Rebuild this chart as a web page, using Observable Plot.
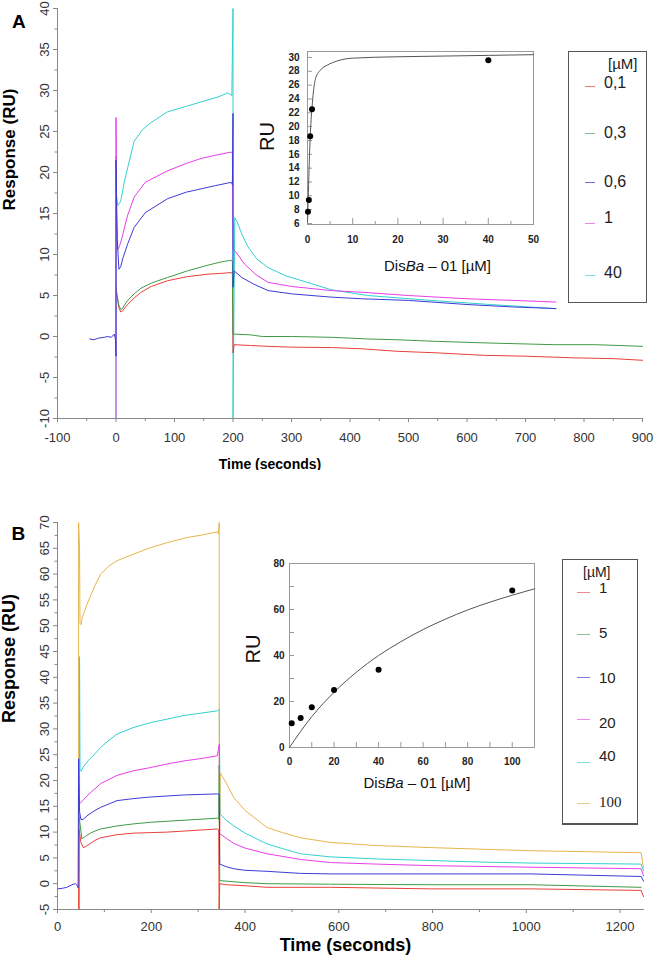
<!DOCTYPE html>
<html><head><meta charset="utf-8">
<script src="https://cdn.jsdelivr.net/npm/d3@7"></script>
<script src="https://cdn.jsdelivr.net/npm/@observablehq/plot@0.6"></script>
<style>
body{margin:0;background:#fff;}
#fig{position:relative;width:654px;height:961px;font-family:"Liberation Sans",Arial,sans-serif;overflow:hidden;}
#fig > *{position:absolute;}
.lg{border:1px solid #555;box-sizing:border-box;}
.lt{position:absolute;line-height:1;transform:translateY(-50%);color:#222;white-space:pre;}
.ll{position:absolute;height:1px;}
</style></head><body><div id="fig"></div><script>
// ---------- Panel A data (time s, response RU) ----------
const aConc = ["0,1","0,3","0,6","1","40"];
const aColors = ["#e8403c","#3f9b47","#3b3bd6","#e83ee8","#33d0d0"];
const aLegendColors = ["#ee7a78","#7fb887","#6f6fe0","#ee80ee","#7adede"];
const aBase = [[-45,-0.3],[-38,-0.4],[-30,-0.2],[-20,-0.1],[-14,0],[-8,-0.1],[-3,0.3],[-1,-0.3]];
const aRed = [[0,5.5],[2,4.8],[5,3.5],[8,3.0],[11,3.1],[15,3.5],[20,3.9],[31,4.7],[43,5.4],[60,6.1],[88,6.8],[122,7.3],[157,7.6],[180,7.7],[197,7.8],[199,7.6],[200,-2.0],[202,-1.0],[230,-1.1],[260,-1.2],[300,-1.3],[370,-1.35],[420,-1.5],[480,-1.8],[550,-2.0],[630,-2.3],[700,-2.4],[780,-2.6],[850,-2.7],[900,-2.9]];
const aGreen = [[0,6.0],[2,5.0],[5,3.8],[8,3.3],[11,3.4],[15,3.9],[20,4.4],[31,5.2],[43,5.9],[60,6.5],[88,7.2],[122,8.0],[157,8.7],[180,9.1],[197,9.3],[199,9.1],[200,0.3],[230,0.2],[250,0.0],[300,0.0],[370,-0.1],[430,-0.3],[480,-0.4],[550,-0.6],[640,-0.8],[750,-1.0],[820,-1.0],[900,-1.2]];
const aBlue = [[0,-2.4],[0,21.5],[2,12],[5,8.2],[8,8.5],[12,9.6],[20,11.3],[31,13.3],[50,15.1],[88,16.8],[120,17.6],[145,18.0],[170,18.4],[190,18.7],[197,18.8],[199,18.5],[200,27.2],[200,6.0],[202,8.0],[215,7.2],[235,6.4],[260,5.6],[300,5.2],[368,4.8],[420,4.6],[500,4.4],[600,3.9],[680,3.6],[752,3.4]];
const aMagenta = [[0,-10],[0,26.7],[1,15],[3,10.6],[6,11.0],[10,12.0],[20,14.8],[31,17.0],[50,18.8],[88,20.2],[120,21.1],[145,21.7],[170,22.1],[197,22.5],[199,22.3],[200,10.6],[205,10.3],[220,8.8],[240,7.5],[260,6.6],[300,6.1],[368,5.6],[420,5.4],[500,5.0],[600,4.6],[680,4.4],[752,4.2]];
const aCyan = [[0,-10],[0,22],[1,17],[3,16.0],[6,16.2],[9,16.8],[14,18.8],[20,20.6],[31,23.8],[45,25.2],[60,26.1],[88,27.4],[117,28.0],[145,28.6],[174,29.2],[191,29.7],[198,29.4],[200,40],[200,-10],[203,14.5],[207,14.0],[215,12.5],[225,11.0],[240,9.5],[260,8.4],[290,7.4],[318,6.8],[368,5.7],[430,5.0],[538,4.4],[640,3.9],[752,3.4]];
const aXTicks = [-100,0,100,200,300,400,500,600,700,800,900];
const aXMinor = [-50,50,150,250,350,450,550,650,750,850];
const aYTicks = [-10,-5,0,5,10,15,20,25,30,35,40];
const aYMinor = [-7.5,-2.5,2.5,7.5,12.5,17.5,22.5,27.5,32.5,37.5];

// ---------- Panel A inset ----------
const aInConc = [0.1,0.3,0.6,1,40];
const aInRU = [7.7,9.4,18.6,22.5,29.6];
const aFitConc = [0,0.2,0.4,0.6,0.8,1,1.3,1.8,2.9,4.4,6.6,10,20,30,40,50];
const aFitRU = [6.2,10.5,15,18.5,21,22.8,25,27,28.2,28.9,29.5,29.9,30.1,30.2,30.3,30.4];
const aInYTicks = [6,8,10,12,14,16,18,20,22,24,26,28,30];
const aInXTicks = [0,10,20,30,40,50];
const aInXMinor = [5,15,25,35,45];

// ---------- Panel B data ----------
const bConc = ["1","5","10","20","40","100"];
const bColors = ["#e8403c","#3f9b47","#3b3bd6","#e83ee8","#33d0d0","#e8b44c"];
const bLegendColors = ["#ee8a88","#8fc090","#7777e6","#f088f0","#80dede","#ecc888"];
const bBase = [[0,-1.0],[10,-0.9],[20,-0.7],[31,-0.2],[38,0],[42,-0.3],[44,-0.8]];
const bRed = [[45,-5],[46,10.5],[50,8.0],[55,7.0],[60,7.2],[70,7.8],[80,8.4],[92,8.9],[127,9.5],[163,9.8],[198,9.9],[234,10.0],[270,10.2],[341,10.6],[344,10.4],[345,-5],[346,0],[360,-0.2],[400,-0.4],[447,-0.7],[582,-0.7],[795,-1.0],[1008,-1.0],[1245,-1.3],[1250,-2.5]];
const bGreen = [[46,13],[52,8.7],[60,9.2],[70,9.8],[80,10.2],[92,10.6],[127,11.2],[163,11.6],[198,11.9],[234,12.1],[270,12.3],[341,12.7],[344,12.5],[345,23],[346,0.6],[360,0.5],[400,0.2],[447,0],[582,-0.1],[795,-0.2],[1008,-0.2],[1245,-0.7]];
const bBlue = [[45,24.2],[47,14],[50,12.4],[55,12.5],[65,13.3],[80,14.2],[92,14.8],[127,16.1],[163,16.5],[198,16.8],[234,17.0],[270,17.2],[341,17.4],[345,17.3],[346,3.8],[360,3.3],[376,2.9],[400,2.6],[447,2.4],[518,2.0],[582,1.9],[795,1.9],[1008,1.9],[1245,1.4],[1250,0.5]];
const bMagenta = [[45,17],[47,15.5],[55,16.2],[65,17.2],[80,18.4],[92,19.4],[127,21.0],[163,21.9],[198,22.5],[234,23.2],[270,23.8],[310,24.3],[341,24.8],[345,27],[346,9.7],[360,8.8],[376,7.8],[400,6.9],[447,5.8],[518,4.7],[582,4.1],[680,3.8],[795,3.5],[1008,3.2],[1245,2.9],[1250,1.5]];
const bCyan = [[47,-5],[47,44],[48,22],[50,21.8],[55,22.6],[65,23.8],[80,25.2],[92,26.4],[110,27.8],[127,29],[163,30.3],[198,31.2],[234,31.9],[270,32.6],[310,33.1],[341,33.5],[345,33.8],[347,13.5],[360,12.3],[376,11.2],[400,9.8],[447,7.7],[480,6.8],[518,5.8],[582,5.2],[680,4.8],[795,4.5],[900,4.2],[1008,4.0],[1130,3.9],[1245,3.8],[1250,2.5]];
const bOrange = [[45,-5],[45,70],[47,65],[48,50.5],[50,50.2],[53,51.6],[63,54.2],[80,57.8],[92,60.0],[110,61.6],[127,62.6],[163,63.9],[198,65.1],[234,66.1],[277,67.1],[310,67.6],[341,68.2],[343,67.8],[345,70],[345,-5],[347,21.5],[360,19.5],[376,16.7],[400,14.2],[447,10.9],[480,9.9],[518,8.9],[582,8.0],[680,7.4],[795,7.0],[900,6.7],[1008,6.4],[1130,6.2],[1245,6.0],[1250,3]];
const bXTicks = [0,200,400,600,800,1000,1200];
const bXMinor = [100,300,500,700,900,1100];
const bYTicks = [-5,0,5,10,15,20,25,30,35,40,45,50,55,60,65,70];
const bYMinor = [-2.5,2.5,7.5,12.5,17.5,22.5,27.5,32.5,37.5,42.5,47.5,52.5,57.5,62.5,67.5];

// ---------- Panel B inset ----------
const bInConc = [1,5,10,20,40,100];
const bInRU = [10.5,12.8,17.5,25,33.8,68.3];
const bFitConc = [0,5,10,20,30,40,50,60,70,80,90,100,110];
const bFitRU = [0,7,13.4,24,32.7,40,46,51.3,55.8,59.8,63.2,66.2,69];
const bInYTicks = [0,20,40,60,80];
const bInYMarks = [0,10,20,30,40,50,60,70,80];
const bInXTicks = [0,20,40,60,80,100];
const bInXMarks = [0,10,20,30,40,50,60,70,80,90,100,110];

const FONT = '"Liberation Sans", Arial, sans-serif';
const fig = document.getElementById("fig");

function rows(names, seriesList, order, base) {
  const out = [];
  for (const i of order) {
    const pts = (base && base[i]) ? base[i].concat(seriesList[i]) : seriesList[i];
    for (const [t, v] of pts) out.push({t, v, s: names[i]});
  }
  return out;
}
function place(el, left, top) { el.style.left = left + "px"; el.style.top = top + "px"; fig.appendChild(el); return el; }
const fmt = d => String(d);

// ---------- Panel A main ----------
const aSeries = [aRed, aGreen, aBlue, aMagenta, aCyan];
const aBases = [null, null, aBase, null, null];
const aRows = rows(aConc, aSeries, [4,0,1,3,2], aBases);
const mainA = Plot.plot({
  width: 654, height: 470, marginLeft: 57, marginRight: 12, marginTop: 8, marginBottom: 52,
  style: {fontFamily: FONT, fontSize: "13px", background: "transparent", color: "#333"},
  x: {domain: [-100, 900], label: null},
  y: {domain: [-10, 40], label: null},
  color: {domain: aConc, range: aColors},
  marks: [
    Plot.line(aRows, {x: "t", y: "v", z: "s", stroke: "s", strokeWidth: 1}),
    Plot.frame({anchor: "left", stroke: "#888"}),
    Plot.frame({anchor: "bottom", stroke: "#888"}),
    Plot.axisX(aXTicks, {tickSize: 4, tickPadding: 10, tickFormat: fmt, stroke: "#888", fill: "#333", label: null}),
    Plot.axisX(aXMinor, {tickSize: 3, tickFormat: () => "", stroke: "#888", label: null}),
    Plot.axisY(aYTicks, {tickSize: 4, tickPadding: 5, tickRotate: -90, tickFormat: fmt, stroke: "#888", fill: "#333", label: null}),
    Plot.axisY(aYMinor, {tickSize: 2.5, tickFormat: () => "", stroke: "#888", label: null}),
    Plot.text(["A"], {text: d => d, frameAnchor: "top-left", dx: -45.5, dy: 6, fontSize: 19, fontWeight: "bold", fill: "#000"}),
    Plot.text(["Response (RU)"], {text: d => d, frameAnchor: "left", dx: -48, dy: -3, rotate: -90, fontSize: 17, fontWeight: "bold", fill: "#000"}),
    Plot.text(["Time (seconds)"], {text: d => d, frameAnchor: "bottom", dx: -80, dy: 50, fontSize: 14, fontWeight: "bold", fill: "#000"})
  ]
});
place(mainA, 0, 0);

// ---------- Panel A inset ----------
const aInPts = aInConc.map((c, i) => ({c, r: aInRU[i]}));
const aFit = aFitConc.map((c, i) => ({c, r: aFitRU[i]}));
const insetA = Plot.plot({
  width: 300, height: 245, marginLeft: 57, marginRight: 17, marginTop: 11, marginBottom: 61,
  style: {fontFamily: FONT, fontSize: "10px", background: "transparent", color: "#222"},
  x: {domain: [0, 50], label: null},
  y: {domain: [5.86, 30.86], label: null},
  marks: [
    Plot.frame({stroke: "#999"}),
    Plot.tickY(aInYTicks, {y: d => d, insetRight: 221, stroke: "#999"}),
    Plot.tickX(aInXTicks, {x: d => d, insetTop: 167, stroke: "#999"}),
    Plot.tickX(aInXMinor, {x: d => d, insetTop: 170, stroke: "#999"}),
    Plot.axisY(aInYTicks, {tickSize: 0, tickPadding: 8, tickFormat: fmt, fontWeight: "bold", fill: "#222", label: null}),
    Plot.axisX(aInXTicks, {tickSize: 0, tickPadding: 11, tickFormat: fmt, fontWeight: "bold", fill: "#222", label: null}),
    Plot.line(aFit, {x: "c", y: "r", stroke: "#555", strokeWidth: 1, curve: "monotone-x"}),
    Plot.dot(aInPts, {x: "c", y: "r", r: 3, fill: "#000"}),
    Plot.text(["RU"], {text: d => d, frameAnchor: "left", dx: -40, dy: 13, rotate: -90, fontSize: 20, fill: "#111"}),
    Plot.text(["DisBa – 01 [µM]"], {text: d => d, frameAnchor: "bottom", dx: 17, dy: 46, fontSize: 15, fill: "#111"})
  ]
});
place(insetA, 250, 40);

// ---------- Panel B main ----------
const bSeries = [bRed, bGreen, bBlue, bMagenta, bCyan, bOrange];
const bBases = [null, null, bBase, null, null, null];
const bRows = rows(bConc, bSeries, [4,5,0,1,3,2], bBases);
const mainB = Plot.plot({
  width: 654, height: 491, marginLeft: 57, marginRight: 11, marginTop: 52, marginBottom: 52,
  style: {fontFamily: FONT, fontSize: "13px", background: "transparent", color: "#333"},
  x: {domain: [0, 1250], label: null},
  y: {domain: [-5, 70], label: null},
  color: {domain: bConc, range: bColors},
  marks: [
    Plot.line(bRows, {x: "t", y: "v", z: "s", stroke: "s", strokeWidth: 1}),
    Plot.frame({anchor: "left", stroke: "#888"}),
    Plot.frame({anchor: "bottom", stroke: "#888"}),
    Plot.axisX(bXTicks, {tickSize: 4, tickPadding: 8, tickFormat: fmt, stroke: "#888", fill: "#333", label: null}),
    Plot.axisX(bXMinor, {tickSize: 3, tickFormat: () => "", stroke: "#888", label: null}),
    Plot.axisY(bYTicks, {tickSize: 4, tickPadding: 5, tickRotate: -90, tickFormat: fmt, stroke: "#888", fill: "#333", label: null}),
    Plot.axisY(bYMinor, {tickSize: 2.5, tickFormat: () => "", stroke: "#888", label: null}),
    Plot.text(["B"], {text: d => d, frameAnchor: "top-left", dx: -46, dy: 4, fontSize: 19, fontWeight: "bold", fill: "#000"}),
    Plot.text(["Response (RU)"], {text: d => d, frameAnchor: "left", dx: -48, dy: 7, rotate: -90, fontSize: 18, fontWeight: "bold", fill: "#000"}),
    Plot.text(["Time (seconds)"], {text: d => d, frameAnchor: "bottom", dx: -5, dy: 41, fontSize: 18, fontWeight: "bold", fill: "#000"})
  ]
});
place(mainB, 0, 470);

// ---------- Panel B inset ----------
const bInPts = bInConc.map((c, i) => ({c, r: bInRU[i]}));
const bFit = bFitConc.map((c, i) => ({c, r: bFitRU[i]}));
const insetB = Plot.plot({
  width: 315, height: 250, marginLeft: 54, marginRight: 16, marginTop: 13, marginBottom: 53,
  style: {fontFamily: FONT, fontSize: "10px", background: "transparent", color: "#222"},
  x: {domain: [0, 110], label: null},
  y: {domain: [0, 80], label: null},
  marks: [
    Plot.frame({stroke: "#999"}),
    Plot.tickY(bInYMarks, {y: d => d, insetRight: 240, stroke: "#999"}),
    Plot.tickX(bInXMarks, {x: d => d, insetTop: 179, stroke: "#999"}),
    Plot.axisY(bInYTicks, {tickSize: 0, tickPadding: 5, tickFormat: fmt, fontWeight: "bold", fill: "#222", label: null}),
    Plot.axisX(bInXTicks, {tickSize: 0, tickPadding: 10, tickFormat: fmt, fontWeight: "bold", fill: "#222", label: null}),
    Plot.line(bFit, {x: "c", y: "r", stroke: "#555", strokeWidth: 1, curve: "monotone-x"}),
    Plot.dot(bInPts, {x: "c", y: "r", r: 3, fill: "#000"}),
    Plot.text(["RU"], {text: d => d, frameAnchor: "left", dx: -36, dy: 8, rotate: -90, fontSize: 20, fill: "#111"}),
    Plot.text(["DisBa – 01 [µM]"], {text: d => d, frameAnchor: "bottom", dx: 5, dy: 40, fontSize: 15, fill: "#111"})
  ]
});
place(insetB, 235, 550);

// italic "Ba"
d3.selectAll("#fig svg text").filter(function(){ return this.textContent === "DisBa – 01 [µM]"; }).each(function(){
  const t = d3.select(this); t.text("");
  t.append("tspan").text("Dis");
  t.append("tspan").attr("font-style", "italic").text("Ba");
  t.append("tspan").text(" – 01 [µM]");
});

// ---------- Legends (HTML) ----------
function legend(box, header, labels, colors, ys, lineYs, lineX, textX, fs, hfs, fams) {
  const b = document.createElement("div");
  b.className = "lg";
  b.style.width = box[2] + "px"; b.style.height = box[3] + "px";
  if (box[4]) b.style.borderBottomWidth = box[4] + "px";
  place(b, box[0], box[1]);
  const h = document.createElement("div");
  h.className = "lt"; h.textContent = "[µM]"; h.style.fontSize = hfs + "px";
  h.style.left = header[0] + "px"; h.style.top = header[1] + "px";
  fig.appendChild(h);
  labels.forEach((lab, i) => {
    const t = document.createElement("div");
    t.className = "lt"; t.textContent = lab; t.style.fontSize = fs + "px";
    if (fams && fams[i]) t.style.fontFamily = fams[i];
    t.style.left = textX + "px"; t.style.top = ys[i] + "px";
    fig.appendChild(t);
    const l = document.createElement("div");
    l.className = "ll"; l.style.background = colors[i];
    l.style.left = lineX[0] + "px"; l.style.width = (lineX[1] - lineX[0]) + "px"; l.style.top = lineYs[i] + "px";
    fig.appendChild(l);
  });
}
legend([568, 51, 79, 252], [608, 63], aConc, aLegendColors, [83, 133, 182, 218, 273], [86, 133, 182, 223, 275], [585, 595], 604, 16, 15);
legend([562, 559, 76, 266, 2], [583, 572], bConc, bLegendColors, [587, 632, 677, 722, 755, 802], [592, 634, 677, 719, 762, 803], [577, 590], 599, 15, 14,
  [null, null, null, null, null, '"Liberation Serif", "Times New Roman", serif']);
</script></body></html>
